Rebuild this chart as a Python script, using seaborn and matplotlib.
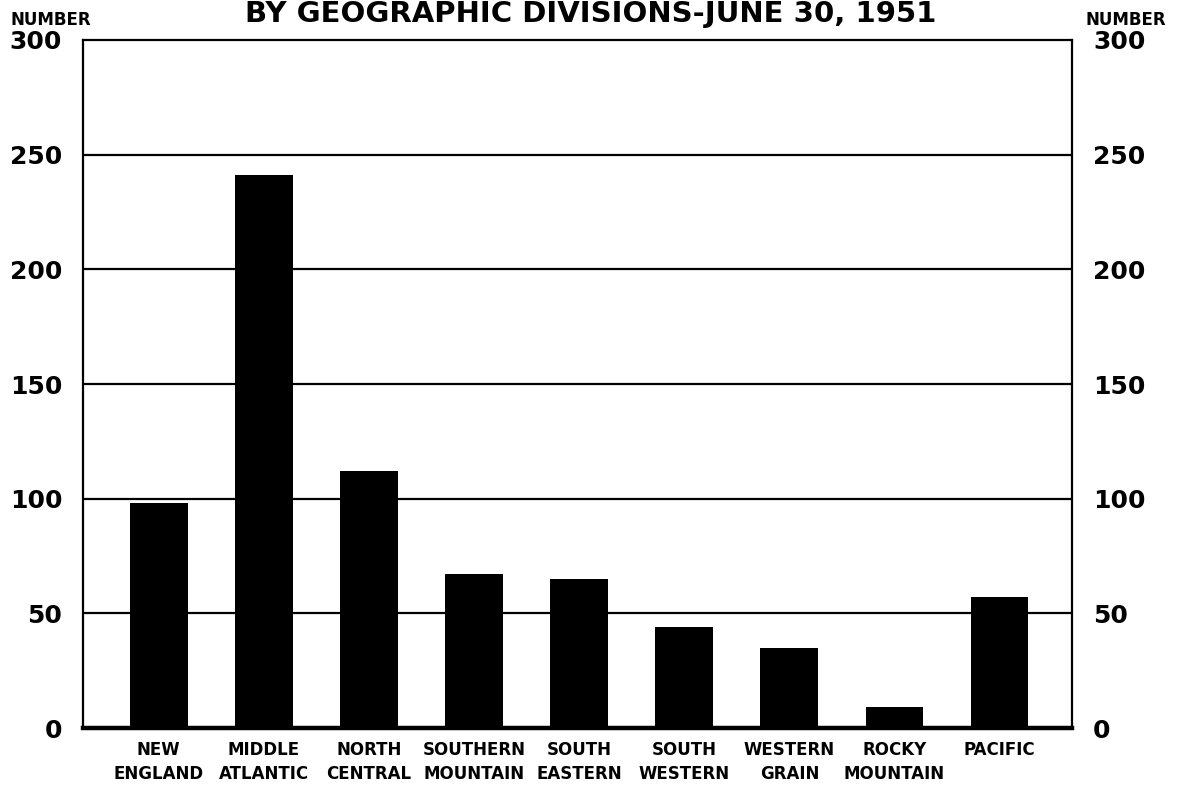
import matplotlib
matplotlib.use("Agg")
import matplotlib.pyplot as plt
import seaborn as sns
import pandas as pd

divisions = ["NEW\nENGLAND", "MIDDLE\nATLANTIC", "NORTH\nCENTRAL", "SOUTHERN\nMOUNTAIN",
             "SOUTH\nEASTERN", "SOUTH\nWESTERN", "WESTERN\nGRAIN", "ROCKY\nMOUNTAIN", "PACIFIC"]
counts = [98, 241, 112, 67, 65, 44, 35, 9, 57]
y_ticks = [0, 50, 100, 150, 200, 250, 300]

sns.set_theme(style="white")
plt.rcParams["font.family"] = ["DejaVu Sans"]
plt.rcParams["text.color"] = "black"
plt.rcParams["xtick.color"] = "black"
plt.rcParams["ytick.color"] = "black"

df = pd.DataFrame({"division": divisions, "count": counts})

fig = plt.figure(figsize=(11.82, 7.92), dpi=100)
ax = fig.add_axes([0.0702, 0.0808, 0.8368, 0.8687])

sns.barplot(data=df, x="division", y="count", color="black", saturation=1,
            width=0.55, linewidth=0, ax=ax, zorder=3)

ax.set_xlim(-0.72, 8.69)
ax.set_ylim(0, 300)
ax.set_yticks(y_ticks)
ax.set_yticklabels([str(t) for t in y_ticks], fontsize=18, fontweight="bold")
ax.tick_params(axis="y", length=0, pad=15, labelright=True, right=False,
               labelcolor="black")
ax.tick_params(axis="x", length=0, pad=9, labelsize=12, labelcolor="black")
for lbl in ax.get_xticklabels():
    lbl.set_fontweight("bold")
    lbl.set_linespacing(1.45)
ax.set_xlabel("")
ax.set_ylabel("")

for y in y_ticks[1:-1]:
    ax.axhline(y, color="black", lw=1.6, zorder=1)

for side in ["left", "right", "top"]:
    ax.spines[side].set_color("black")
    ax.spines[side].set_linewidth(1.6)
ax.spines["bottom"].set_color("black")
ax.spines["bottom"].set_linewidth(3.2)

fig.text(10 / 1182, 1 - 20 / 792, "NUMBER", fontsize=12, fontweight="bold",
         ha="left", va="center")
fig.text(1166 / 1182, 1 - 20 / 792, "NUMBER", fontsize=12, fontweight="bold",
         ha="right", va="center")
fig.text(0.50, 1 - 22 / 792, "BY GEOGRAPHIC DIVISIONS-JUNE 30, 1951", fontsize=21,
         fontweight="bold", ha="center", va="baseline")

fig.savefig("out.png", dpi=100, facecolor="white")
